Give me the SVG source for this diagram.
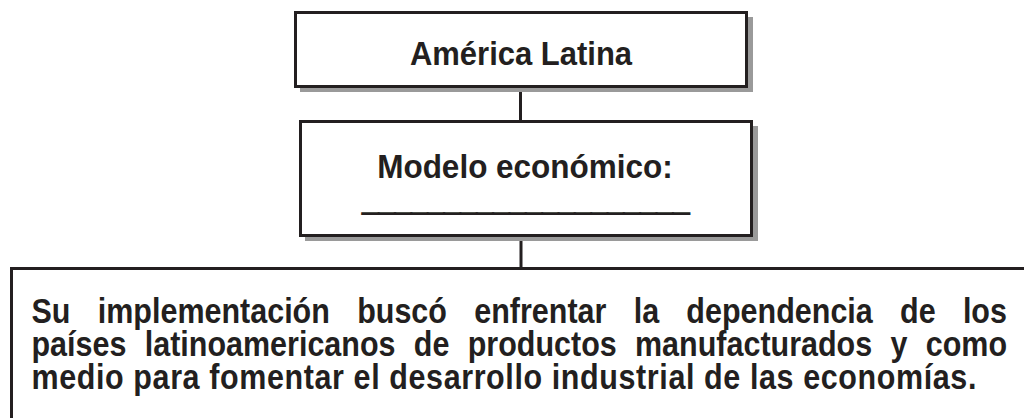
<svg xmlns="http://www.w3.org/2000/svg" width="1024" height="418" viewBox="0 0 1024 418">
<style>
.box{fill:#ffffff;stroke:#231f20;stroke-width:3}
.shadow{fill:#9a9a9a}
.conn{stroke:#231f20;stroke-width:3;fill:none}
.t{font-family:"Liberation Sans",Arial,Helvetica,sans-serif;font-weight:bold;fill:#231f20}
</style>
<rect width="1024" height="418" fill="#ffffff"/>
<g id="connectors">
<line class="conn" x1="520.5" y1="88" x2="520.5" y2="121"/>
<line class="conn" x1="521" y1="237" x2="521" y2="268"/>
</g>
<g id="node-america">
<rect class="shadow" x="300" y="17" width="453" height="75"/>
<rect class="box" x="295.5" y="12.5" width="451" height="74"/>
<text class="t" x="521" y="60.2" font-size="31" text-anchor="middle" transform="scale(1,1.08)">América Latina</text>
</g>
<g id="node-modelo">
<rect class="shadow" x="305" y="126" width="453" height="115"/>
<rect class="box" x="300.5" y="121.5" width="451" height="114"/>
<text class="t" x="525" y="165" font-size="31.5" text-anchor="middle" transform="scale(1,1.08)">Modelo económico:</text>
<text class="t" x="525.8" y="211" font-size="29.4" text-anchor="middle" stroke="#231f20" stroke-width="1.6">____________________</text>
</g>
<g id="node-descripcion">
<rect class="box" x="11.5" y="268.5" width="1040" height="170"/>
<text class="t" font-size="30.5" transform="scale(1,1.12)">
<tspan x="31.5" y="288.4" word-spacing="18.8">Su implementación buscó enfrentar la dependencia de los</tspan>
<tspan x="31.5" y="317.9" word-spacing="9.8">países latinoamericanos de productos manufacturados y como</tspan>
<tspan x="31.5" y="347.3" letter-spacing="0.6">medio para fomentar el desarrollo industrial de las economías.</tspan>
</text>
</g>
</svg>
